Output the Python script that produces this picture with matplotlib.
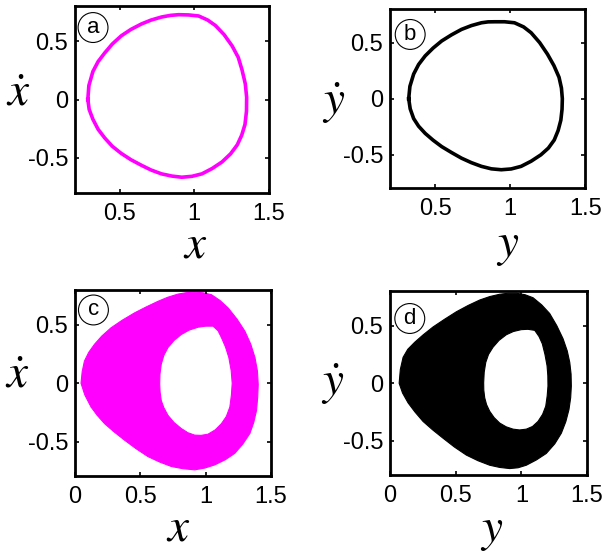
import numpy as np
import matplotlib.pyplot as plt
from matplotlib.path import Path
from matplotlib.patches import PathPatch

plt.rcParams['font.family'] = ['Liberation Sans Narrow', 'Liberation Sans']
plt.rcParams['mathtext.fontset'] = 'stix'
plt.rcParams['axes.unicode_minus'] = False

MAGENTA = '#ff00ff'

# (a) periodic orbit, x vs xdot
a_x = [0.286, 0.293, 0.32, 0.355, 0.40, 0.45, 0.51, 0.575, 0.646, 0.71, 0.78, 0.84, 0.894,
       0.96, 1.029, 1.09, 1.142, 1.2, 1.254, 1.295, 1.32, 1.342, 1.351, 1.35, 1.34, 1.318,
       1.288, 1.243, 1.186, 1.12, 1.051, 0.985, 0.916, 0.85, 0.78, 0.71, 0.646, 0.575, 0.51,
       0.45, 0.40, 0.355, 0.32, 0.295]
a_v = [0.0, 0.12, 0.24, 0.325, 0.40, 0.475, 0.545, 0.6, 0.647, 0.68, 0.706, 0.72, 0.726,
       0.724, 0.715, 0.68, 0.633, 0.555, 0.458, 0.36, 0.254, 0.135, 0.02, -0.1, -0.213, -0.305,
       -0.388, -0.465, -0.534, -0.59, -0.636, -0.657, -0.665, -0.655, -0.636, -0.603, -0.563,
       -0.515, -0.461, -0.4, -0.33, -0.255, -0.169, -0.085]

# (b) periodic orbit, y vs ydot
b_y = [0.324, 0.332, 0.357, 0.39, 0.434, 0.487, 0.544, 0.61, 0.676, 0.742, 0.809, 0.853,
       0.897, 0.963, 1.029, 1.09, 1.14, 1.197, 1.249, 1.292, 1.326, 1.342, 1.348, 1.346,
       1.338, 1.32, 1.294, 1.255, 1.205, 1.14, 1.073, 1.007, 0.941, 0.875, 0.809, 0.742,
       0.676, 0.61, 0.544, 0.487, 0.434, 0.39, 0.357, 0.334]
b_v = [0.0, 0.11, 0.22, 0.305, 0.382, 0.452, 0.515, 0.57, 0.618, 0.652, 0.677, 0.685,
       0.686, 0.686, 0.677, 0.64, 0.588, 0.5, 0.397, 0.295, 0.191, 0.095, 0.0, -0.095,
       -0.191, -0.283, -0.368, -0.44, -0.5, -0.557, -0.603, -0.626, -0.633, -0.625, -0.603,
       -0.57, -0.53, -0.48, -0.427, -0.37, -0.309, -0.245, -0.177, -0.09]

# (c) quasi-periodic band, x vs xdot (outer edge and hole)
c_out_x = [0.046, 0.055, 0.072, 0.105, 0.149, 0.205, 0.276, 0.36, 0.456, 0.545, 0.635, 0.71,
           0.788, 0.85, 0.916, 0.98, 1.044, 1.11, 1.172, 1.24, 1.3, 1.345, 1.377, 1.396,
           1.402, 1.398, 1.389, 1.368, 1.338, 1.285, 1.223, 1.15, 1.07, 0.995, 0.916, 0.825,
           0.737, 0.648, 0.558, 0.468, 0.379, 0.3, 0.226, 0.17, 0.123, 0.075]
c_out_v = [0.0, 0.1, 0.19, 0.265, 0.334, 0.405, 0.476, 0.54, 0.604, 0.655, 0.703, 0.738,
           0.765, 0.777, 0.782, 0.776, 0.76, 0.71, 0.646, 0.55, 0.447, 0.335, 0.221, 0.105,
           -0.01, -0.12, -0.233, -0.335, -0.431, -0.52, -0.601, -0.656, -0.7, -0.727, -0.743,
           -0.733, -0.714, -0.676, -0.629, -0.562, -0.488, -0.418, -0.346, -0.275, -0.204, -0.1]
c_in_x = [0.648, 0.65, 0.66, 0.68, 0.711, 0.758, 0.814, 0.875, 0.942, 1.0, 1.057, 1.095,
          1.121, 1.152, 1.177, 1.195, 1.203, 1.197, 1.185, 1.158, 1.121, 1.073, 1.018, 0.965,
          0.916, 0.865, 0.814, 0.758, 0.711, 0.68, 0.66, 0.651]
c_in_v = [-0.006, 0.08, 0.164, 0.24, 0.306, 0.368, 0.419, 0.457, 0.481, 0.49, 0.49, 0.45,
          0.391, 0.31, 0.221, 0.11, 0.0, -0.1, -0.204, -0.285, -0.346, -0.4, -0.437, -0.447,
          -0.445, -0.425, -0.389, -0.337, -0.275, -0.21, -0.148, -0.075]

# (d) quasi-periodic band, y vs ydot (outer edge and hole)
d_out_y = [0.069, 0.078, 0.099, 0.135, 0.188, 0.252, 0.327, 0.415, 0.505, 0.595, 0.683, 0.76,
           0.835, 0.9, 0.962, 1.028, 1.089, 1.155, 1.216, 1.27, 1.318, 1.35, 1.369, 1.379,
           1.381, 1.376, 1.363, 1.339, 1.305, 1.255, 1.19, 1.115, 1.038, 0.975, 0.912, 0.835,
           0.759, 0.67, 0.581, 0.49, 0.404, 0.325, 0.251, 0.19, 0.137, 0.095]
d_out_v = [0.0, 0.12, 0.225, 0.295, 0.356, 0.42, 0.488, 0.555, 0.62, 0.675, 0.722, 0.752,
           0.772, 0.781, 0.781, 0.768, 0.742, 0.68, 0.605, 0.5, 0.386, 0.28, 0.181, 0.08,
           -0.024, -0.125, -0.228, -0.333, -0.433, -0.525, -0.609, -0.665, -0.711, -0.733,
           -0.74, -0.73, -0.711, -0.672, -0.623, -0.553, -0.477, -0.405, -0.331, -0.25, -0.17, -0.085]
d_in_y = [0.713, 0.717, 0.729, 0.75, 0.784, 0.83, 0.886, 0.94, 1.0, 1.05, 1.102, 1.135,
          1.16, 1.18, 1.196, 1.202, 1.203, 1.197, 1.186, 1.162, 1.127, 1.085, 1.038, 0.987,
          0.937, 0.885, 0.835, 0.793, 0.759, 0.735, 0.721, 0.714]
d_in_v = [0.005, 0.095, 0.181, 0.25, 0.312, 0.372, 0.421, 0.449, 0.465, 0.468, 0.459, 0.405,
          0.342, 0.25, 0.152, 0.065, -0.024, -0.11, -0.199, -0.27, -0.331, -0.375, -0.398, -0.405,
          -0.398, -0.378, -0.345, -0.298, -0.243, -0.185, -0.126, -0.06]


def closed(px, py):
    return np.append(px, px[0]), np.append(py, py[0])


def band(ax, ox, ov, ix, iv, color):
    outer = np.column_stack(closed(ox, ov))
    inner = np.column_stack(closed(ix, iv))[::-1]
    path = Path.make_compound_path(Path(outer, closed=True), Path(inner, closed=True))
    ax.add_patch(PathPatch(path, fc=color, ec=color, lw=0.8, joinstyle='round'))


def style(ax, xlim, xticks, tag, xlab, ylab, xl_pos, yl_pos, tag_pos):
    ax.set_xlim(*xlim)
    ax.set_ylim(-0.8, 0.8)
    ax.set_xticks(xticks, [f'{t:g}' for t in xticks])
    ax.set_yticks([-0.5, 0, 0.5], ['-0.5', '0', '0.5'])
    ax.tick_params(direction='in', length=3, width=1.2, labelsize=17,
                   top=True, right=True, pad=5)
    ax.tick_params(axis='x', pad=7)
    for s in ax.spines.values():
        s.set_linewidth(2)
    ax.set_xlabel(xlab, fontsize=34, va='center')
    ax.set_ylabel(ylab, fontsize=34, rotation=0, va='center', ha='center')
    ax.xaxis.set_label_coords(*xl_pos)
    ax.yaxis.set_label_coords(*yl_pos)
    ax.text(*tag_pos, tag, transform=ax.transAxes, fontsize=16, ha='center', va='center',
            family='Liberation Sans',
            bbox=dict(boxstyle='circle,pad=0.2', fc='white', ec='black', lw=0.8))


fig = plt.figure(figsize=(6.02, 5.54), dpi=100)
ax_a = fig.add_axes([0.1246, 0.6516, 0.322, 0.3375])
ax_b = fig.add_axes([0.648, 0.6598, 0.324, 0.324])
ax_c = fig.add_axes([0.1246, 0.1399, 0.3256, 0.3366])
ax_d = fig.add_axes([0.648, 0.1417, 0.327, 0.333])

ax_a.plot(*closed(a_x, a_v), color=MAGENTA, lw=2.6, solid_joinstyle='round')
ax_b.plot(*closed(b_y, b_v), color='black', lw=2.6, solid_joinstyle='round')
band(ax_c, c_out_x, c_out_v, c_in_x, c_in_v, MAGENTA)
band(ax_d, d_out_y, d_out_v, d_in_y, d_in_v, 'black')

style(ax_a, (0.2, 1.5), [0.5, 1, 1.5], 'a', r'$x$', r'$\dot{x}$',
      (0.619, -0.28), (-0.294, 0.53), (0.093, 0.885))
style(ax_b, (0.2, 1.5), [0.5, 1, 1.5], 'b', r'$y$', r'$\dot{y}$',
      (0.605, -0.32), (-0.292, 0.476), (0.103, 0.858))
style(ax_c, (0, 1.5), [0, 0.5, 1, 1.5], 'c', r'$x$', r'$\dot{x}$',
      (0.526, -0.28), (-0.293, 0.539), (0.094, 0.893))
style(ax_d, (0, 1.5), [0, 0.5, 1, 1.5], 'd', r'$y$', r'$\dot{y}$',
      (0.518, -0.3), (-0.292, 0.496), (0.10, 0.851))

fig.savefig('out.png', dpi=100)
